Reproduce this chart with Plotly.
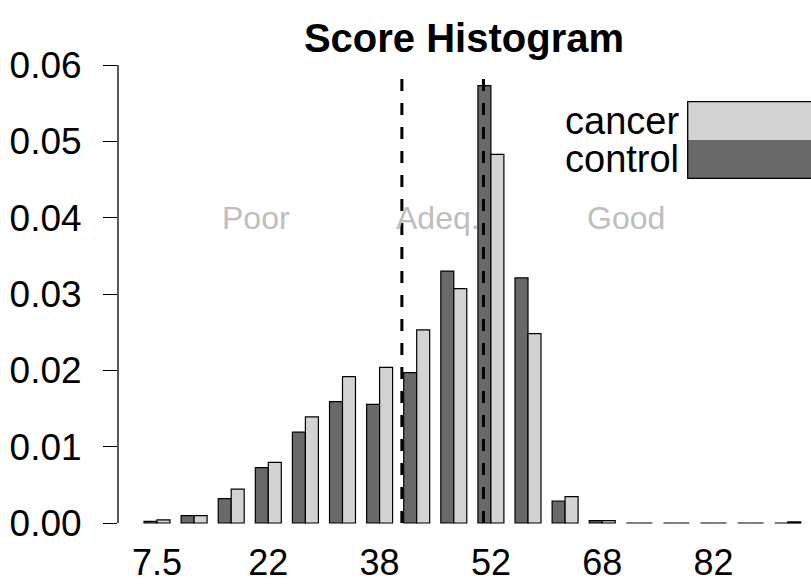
import plotly.graph_objects as go

# Score bins (bin centres shown on every third group)
bins = ["7.5", "12.5", "17.5", "22.5", "27.5", "32.5", "37.5", "42.5", "47.5",
        "52.5", "57.5", "62.5", "67.5", "72.5", "77.5", "82.5", "87.5", "92.5"]
tick_idx = [0, 3, 6, 9, 12, 15]
tick_labels = ["7.5", "22", "38", "52", "68", "82"]

# Density per bin
control = [0.0002, 0.00096, 0.0032, 0.00725, 0.0119, 0.0159, 0.01555, 0.0197, 0.0330,
           0.0573, 0.0321, 0.00288, 0.0003, 0.0, 0.0, 0.0, 0.0, 0.0]
cancer = [0.0004, 0.00096, 0.00445, 0.00795, 0.0139, 0.01917, 0.0204, 0.0253, 0.0307,
          0.0483, 0.0248, 0.00345, 0.0003, 0.0, 0.0, 0.0, 0.0, 0.00015]

# Category cut-offs (in group-index units) and region labels
cutoffs = [6.6, 8.8]
cutoff_top = 0.0583
regions = ["Poor", "Adeq.", "Good"]
region_x = [2.67, 7.58, 12.63]
region_y = 0.04

DARK = "#696969"
LIGHT = "#d3d3d3"
FONT = "Liberation Sans, Arial, Helvetica, sans-serif"

# empty bins still get a hairline stroke along the baseline
floor = 1e-7
xs = list(range(len(bins)))

fig = go.Figure()
fig.add_trace(go.Bar(x=xs, y=[max(v, floor) for v in control], name="control",
                     marker=dict(color=DARK, line=dict(color="black", width=1.2))))
fig.add_trace(go.Bar(x=xs, y=[max(v, floor) for v in cancer], name="cancer",
                     marker=dict(color=LIGHT, line=dict(color="black", width=1.2))))

shapes = []
# y axis line spanning the labelled ticks only
shapes.append(dict(type="line", xref="paper", yref="y", x0=0, x1=0, y0=0, y1=0.06,
                   line=dict(color="black", width=1.3)))
for c in cutoffs:
    shapes.append(dict(type="line", xref="x", yref="y", x0=c, x1=c, y0=0, y1=cutoff_top,
                       line=dict(color="black", width=3, dash="12px,12px"), layer="above"))

# legend block: swatches to the right of their labels
leg_x0 = (687.7 - 118) / 693
leg_rows = [("cancer", LIGHT, 101.7, 140.0), ("control", DARK, 140.0, 178.3)]
annotations = []
for label, col, top_px, bot_px in leg_rows:
    y_top = (540 - top_px) / 480
    y_bot = (540 - bot_px) / 480
    shapes.append(dict(type="rect", xref="paper", yref="paper", x0=leg_x0, x1=1.1,
                       y0=y_bot, y1=y_top, fillcolor=col, line=dict(width=0), layer="above"))
    annotations.append(dict(text=label, xref="paper", yref="paper",
                            x=(681 - 118) / 693, y=(y_top + y_bot) / 2,
                            xanchor="right", yanchor="middle", showarrow=False,
                            font=dict(family=FONT, size=38, color="black")))
shapes.append(dict(type="rect", xref="paper", yref="paper", x0=leg_x0, x1=1.1,
                   y0=(540 - 178.3) / 480, y1=(540 - 101.7) / 480,
                   line=dict(color="black", width=1.3), layer="above"))

for txt, rx in zip(regions, region_x):
    annotations.append(dict(text=txt, x=rx, y=region_y, xref="x", yref="y",
                            showarrow=False, xanchor="center", yanchor="middle",
                            font=dict(family=FONT, size=32, color="#bebebe")))

px_per_unit = 458 / 0.06
fig.update_layout(
    width=811, height=586,
    margin=dict(l=118, r=0, t=60, b=46, autoexpand=False),
    paper_bgcolor="white", plot_bgcolor="white",
    barmode="group", bargap=0.30, bargroupgap=0,
    showlegend=False,
    title=dict(text="<b>Score Histogram</b>", x=464 / 811, xanchor="center",
               y=1 - 38 / 586, yanchor="middle", yref="container",
               font=dict(family=FONT, size=40, color="black")),
    xaxis=dict(range=[-(157 - 118) / 37.1, (811 - 157) / 37.1],
               tickmode="array", tickvals=tick_idx, ticktext=tick_labels,
               showline=False, showgrid=False, zeroline=False, ticks="",
               automargin=False,
               tickfont=dict(family=FONT, size=36, color="black"),
               ticklabelstandoff=-2),
    yaxis=dict(range=[-(540 - 523) / px_per_unit, (523 - 60) / px_per_unit],
               tickmode="array", tickvals=[0, 0.01, 0.02, 0.03, 0.04, 0.05, 0.06],
               tickformat=".2f", showline=False, showgrid=False, zeroline=False,
               ticks="outside", ticklen=14, tickwidth=1.3, tickcolor="black",
               automargin=False,
               tickfont=dict(family=FONT, size=37, color="black"),
               ticklabelstandoff=14),
    shapes=shapes, annotations=annotations,
)

fig.write_html("out.html")
